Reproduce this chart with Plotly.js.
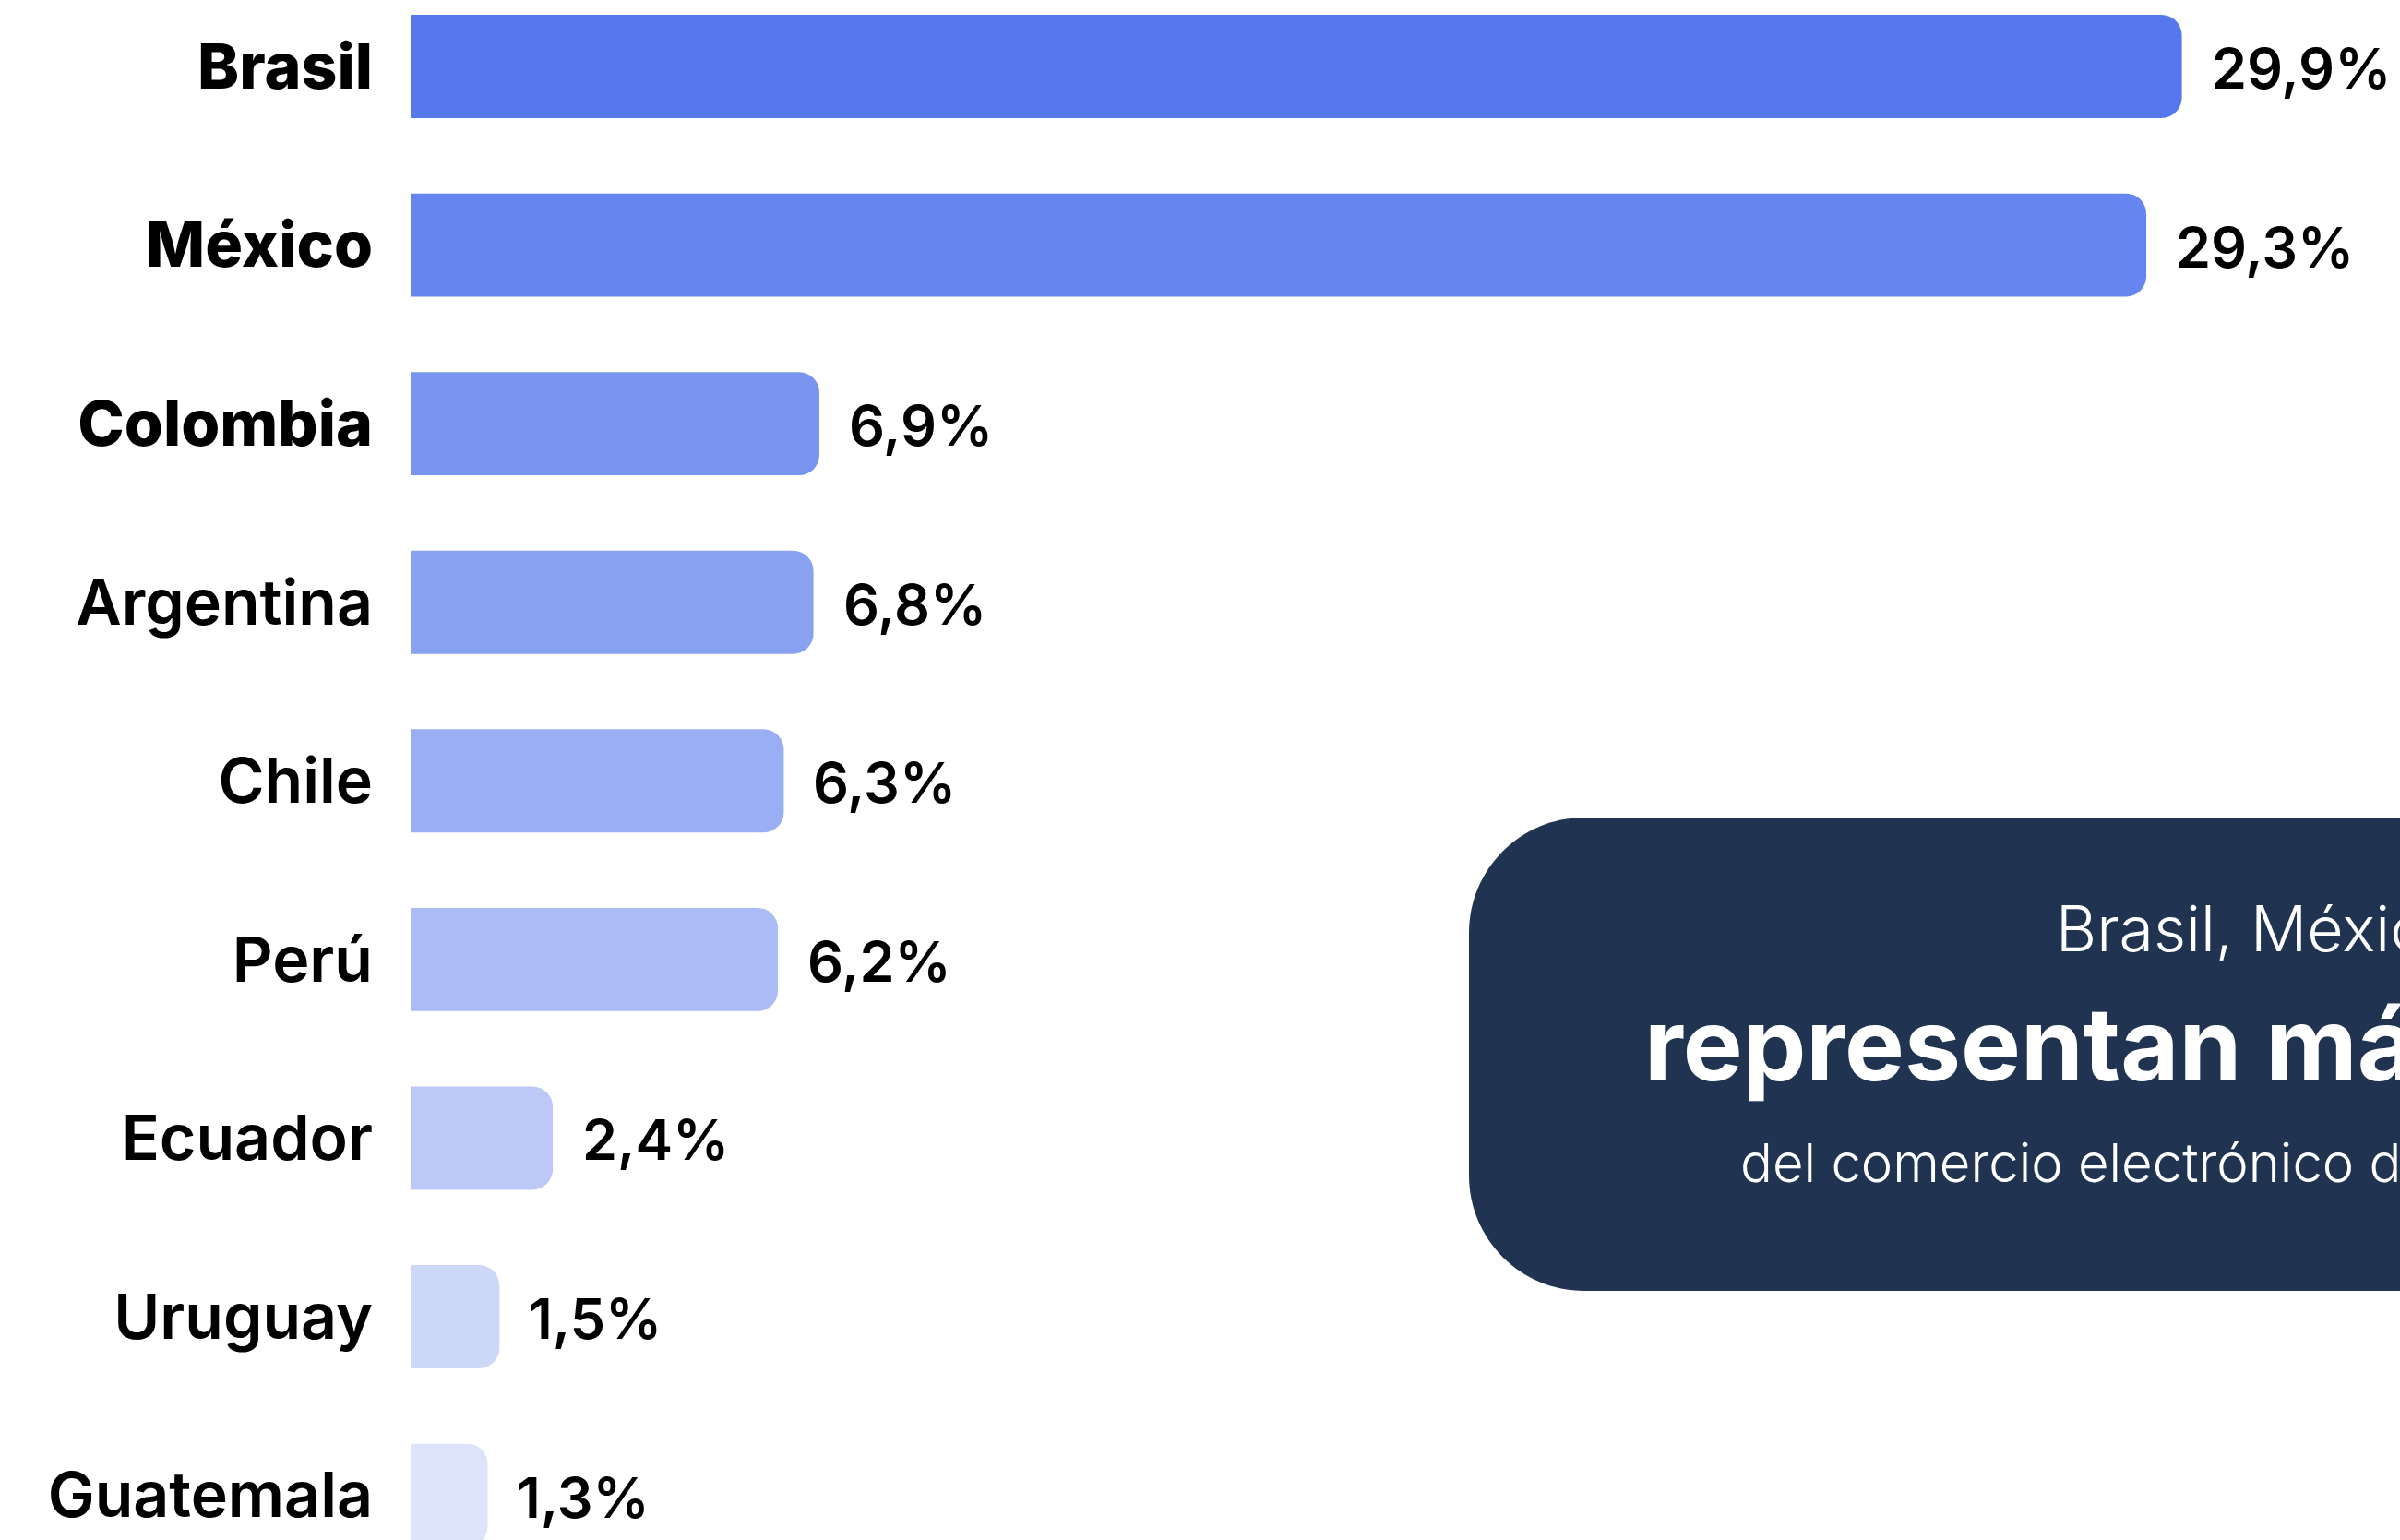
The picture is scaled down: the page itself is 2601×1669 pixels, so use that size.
<!DOCTYPE html>
<html>
<head>
<meta charset="utf-8">
<script src="https://cdn.plot.ly/plotly-3.0.1.min.js"></script>
<style>
  html, body { margin: 0; padding: 0; background: #ffffff; }
  #chart { width: 2601px; height: 1669px; }
</style>
</head>
<body>
<div id="chart"></div>
<script>
// ---- Data ----
const countries = ["Brasil", "México", "Colombia", "Argentina", "Chile", "Perú", "Ecuador", "Uruguay", "Guatemala"];
const shares = [29.9, 29.3, 6.9, 6.8, 6.3, 6.2, 2.4, 1.5, 1.3];
const barColors = ["#5579EC", "#6685EE", "#7894EF", "#89A1F1", "#9AAEF3", "#ABBBF5", "#BCC9F6", "#CDD7F8", "#DDE3FA"];
const heavyLabels = ["Brasil", "México", "Colombia"];
const calloutLines = ["Brasil, México y Colombia", "representan más del 66%", "del comercio electrónico de la región"];

// ---- Layout geometry (pixels) ----
const W = 2601, H = 1669;
const ML = 445, MR = 0, MT = 0, MB = 0;
const plotW = W - ML - MR, plotH = H - MT - MB;
const FONT = "Inter, 'Open Sans', sans-serif";

const pxX = px => (px - ML) / plotW;
const pxY = py => 1 - (py - MT) / plotH;

const tickText = countries.map(c =>
  heavyLabels.includes(c) ? '<span style="font-weight:800">' + c + '</span>' : c);

const trace = {
  type: 'bar',
  orientation: 'h',
  x: shares,
  y: countries,
  width: 0.578,
  marker: { color: barColors, cornerradius: 22, line: { width: 0 } },
  hoverinfo: 'skip'
};

const valueAnnotations = countries.map((c, i) => ({
  x: shares[i], y: c, xref: 'x', yref: 'y',
  text: shares[i].toFixed(1).replace('.', ',') + '%',
  showarrow: false, xanchor: 'left', yanchor: 'middle', xshift: 30, yshift: -2,
  font: { family: FONT, size: 61, color: '#000000', weight: 600 }
}));

// Callout box (rounded rectangle) in paper coords
const bx0 = 1592, bx1 = 2700, by0 = 886, by1 = 1399, r = 125, k = 0.5523 * r;
const boxPath = [
  'M', pxX(bx0 + r), pxY(by0),
  'L', pxX(bx1), pxY(by0),
  'L', pxX(bx1), pxY(by1),
  'L', pxX(bx0 + r), pxY(by1),
  'C', pxX(bx0 + r - k), pxY(by1), pxX(bx0), pxY(by1 - r + k), pxX(bx0), pxY(by1 - r),
  'L', pxX(bx0), pxY(by0 + r),
  'C', pxX(bx0), pxY(by0 + r - k), pxX(bx0 + r - k), pxY(by0), pxX(bx0 + r), pxY(by0),
  'Z'
].join(' ');

const calloutAnnotations = [
  { text: calloutLines[0], x: pxX(2226), y: pxY(1006), size: 68, weight: 300 },
  { text: calloutLines[1], x: pxX(1780), y: pxY(1131), size: 109, weight: 700 },
  { text: calloutLines[2], x: pxX(1884), y: pxY(1260), size: 58, weight: 300 }
].map(a => ({
  xref: 'paper', yref: 'paper', x: a.x, y: a.y, text: a.text,
  showarrow: false, xanchor: 'left', yanchor: 'middle',
  font: { family: FONT, size: a.size, color: '#ffffff', weight: a.weight }
}));

const layout = {
  width: W, height: H,
  margin: { l: ML, r: MR, t: MT, b: MB, pad: 0 },
  paper_bgcolor: '#ffffff',
  plot_bgcolor: '#ffffff',
  showlegend: false,
  xaxis: {
    range: [0, plotW / 64.2],
    visible: false, showgrid: false, zeroline: false, fixedrange: true
  },
  yaxis: {
    type: 'category',
    categoryorder: 'array', categoryarray: countries,
    tickmode: 'array', tickvals: countries, ticktext: tickText,
    range: [8.25, -0.372],
    showgrid: false, zeroline: false, showline: false,
    ticks: '', ticklabelstandoff: 40,
    tickfont: { family: FONT, size: 68, color: '#000000', weight: 600 },
    fixedrange: true
  },
  shapes: [{
    type: 'path', xref: 'paper', yref: 'paper', path: boxPath,
    fillcolor: '#203452', line: { width: 0 }, layer: 'below'
  }],
  annotations: valueAnnotations.concat(calloutAnnotations)
};

Plotly.newPlot('chart', [trace], layout, { staticPlot: true, displayModeBar: false });
</script>
</body>
</html>
